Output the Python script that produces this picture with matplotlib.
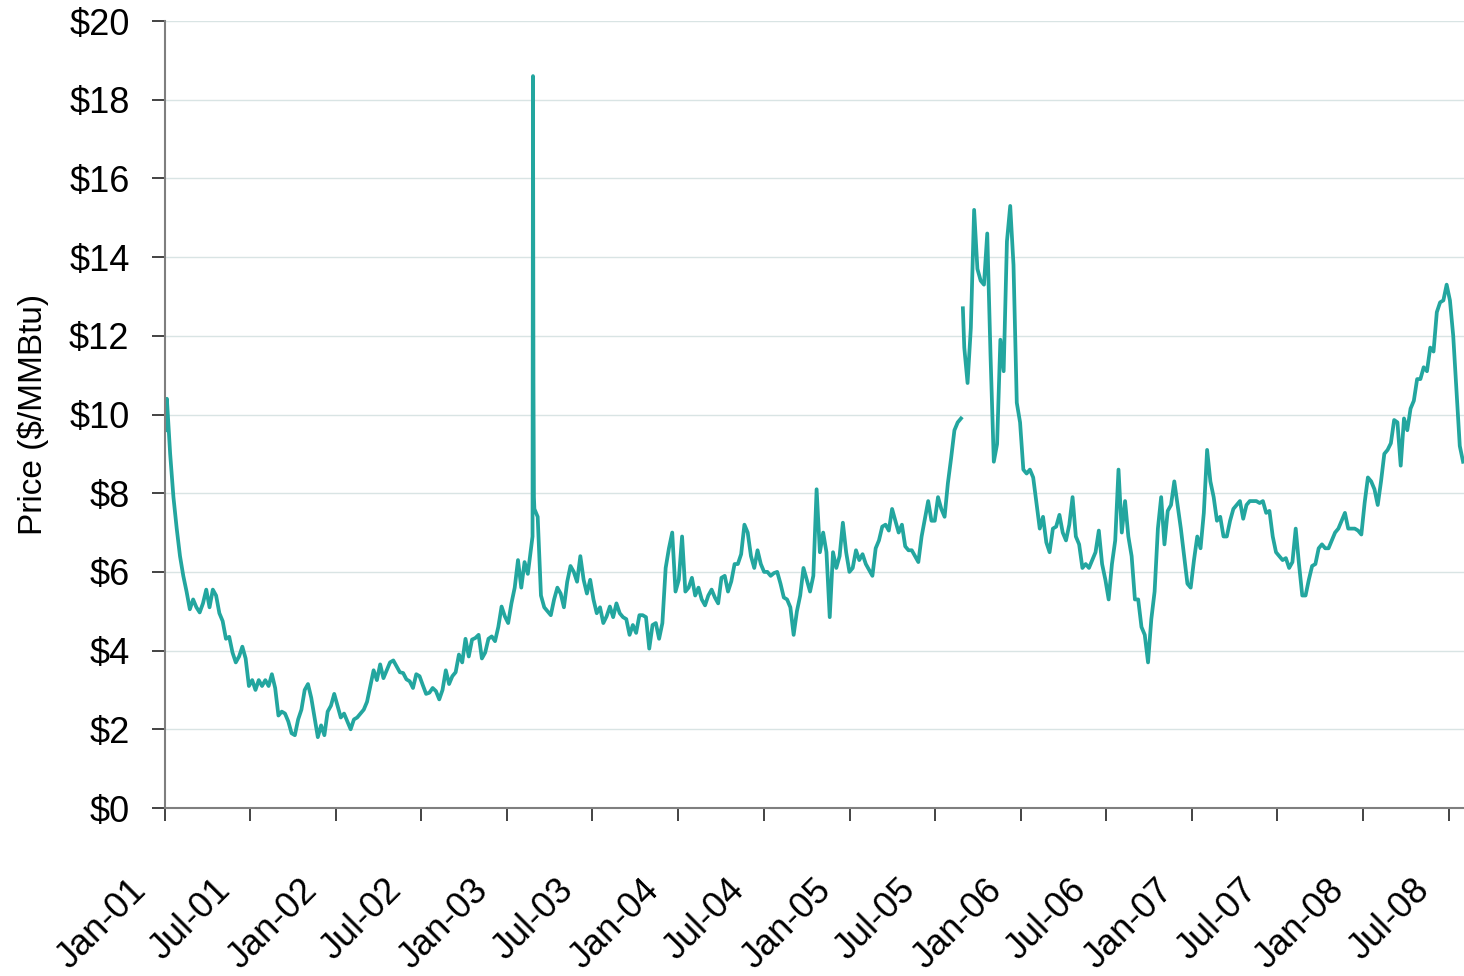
import numpy as np
import pandas as pd
import matplotlib
matplotlib.use('Agg')
import matplotlib.pyplot as plt
import matplotlib.dates as mdates
from matplotlib.ticker import MultipleLocator, FuncFormatter
from matplotlib.transforms import ScaledTranslation

# weekly spot prices ($/MMBtu), Fridays from 2001-01-05
prices_2001 = [10.4, 9.0, 7.9, 7.1, 6.4, 5.9, 5.5, 5.05, 5.3, 5.1,
               4.97, 5.2, 5.55, 5.1, 5.55, 5.4, 4.95, 4.75, 4.3, 4.35,
               3.95, 3.7, 3.85, 4.1, 3.8, 3.1, 3.25, 3.0, 3.25, 3.1,
               3.25, 3.1, 3.4, 3.05, 2.35, 2.45, 2.4, 2.2, 1.9, 1.85,
               2.25, 2.5, 3.0, 3.15, 2.8, 2.3, 1.8, 2.1, 1.85, 2.45,
               2.6, 2.9]
prices_2002 = [2.6, 2.3, 2.4, 2.2, 2.0, 2.25, 2.3, 2.4, 2.5, 2.7,
               3.1, 3.5, 3.25, 3.65, 3.3, 3.5, 3.7, 3.75, 3.6, 3.45,
               3.43, 3.27, 3.22, 3.05, 3.4, 3.35, 3.12, 2.9, 2.93, 3.05,
               2.97, 2.76, 3.0, 3.5, 3.15, 3.35, 3.45, 3.9, 3.7, 4.3,
               3.85, 4.28, 4.32, 4.4, 3.8, 3.95, 4.3, 4.36, 4.24, 4.6,
               5.12, 4.87]
prices_2003 = [4.7, 5.2, 5.6, 6.3, 5.6, 6.25, 5.95, 6.6, 7.6, 7.4,
               5.4, 5.1, 5.0, 4.9, 5.3, 5.6, 5.45, 5.1, 5.75, 6.15,
               6.0, 5.75, 6.4, 5.8, 5.45, 5.8, 5.3, 4.95, 5.1, 4.7,
               4.87, 5.12, 4.85, 5.2, 4.95, 4.85, 4.8, 4.4, 4.65, 4.45,
               4.9, 4.9, 4.85, 4.05, 4.65, 4.7, 4.3, 4.7, 6.1, 6.6,
               7.0, 5.5]
prices_2004 = [5.8, 6.9, 5.5, 5.6, 5.85, 5.4, 5.6, 5.3, 5.15, 5.4,
               5.55, 5.35, 5.2, 5.85, 5.9, 5.5, 5.76, 6.2, 6.2, 6.45,
               7.2, 7.0, 6.4, 6.1, 6.55, 6.2, 6.0, 6.0, 5.9, 5.97,
               6.0, 5.7, 5.35, 5.3, 5.1, 4.4, 5.0, 5.4, 6.1, 5.8,
               5.5, 5.9, 8.1, 6.5, 7.0, 6.5, 4.85, 6.5, 6.1, 6.4,
               7.25, 6.5, 6.0]
prices_2005 = [6.1, 6.55, 6.3, 6.45, 6.2, 6.05, 5.9, 6.6, 6.8, 7.15,
               7.2, 7.05, 7.6, 7.3, 7.0, 7.2, 6.65, 6.55, 6.55, 6.4,
               6.25, 6.9, 7.35, 7.8, 7.3, 7.3, 7.9, 7.6, 7.4, 8.25,
               8.9, 9.6, 9.8, 9.9, 11.7, 10.8, 12.2, 15.2, 13.7, 13.4,
               13.3, 14.6, 11.5, 8.8, 9.25, 11.9, 11.1, 14.4, 15.3, 13.8,
               10.3, 9.8]
prices_2006 = [8.6, 8.5, 8.6, 8.4, 7.75, 7.1, 7.4, 6.75, 6.5, 7.1,
               7.15, 7.45, 7.0, 6.8, 7.2, 7.9, 6.9, 6.7, 6.1, 6.2,
               6.1, 6.3, 6.5, 7.05, 6.2, 5.8, 5.3, 6.2, 6.8, 8.6,
               7.0, 7.8, 6.9, 6.4, 5.3, 5.3, 4.6, 4.4, 3.7, 4.8,
               5.5, 7.1, 7.9, 6.7, 7.55, 7.7, 8.3, 7.7, 7.1, 6.4,
               5.7, 5.6]
prices_2007 = [6.3, 6.9, 6.6, 7.5, 9.1, 8.3, 7.9, 7.3, 7.4, 6.9,
               6.9, 7.3, 7.6, 7.7, 7.8, 7.35, 7.7, 7.8, 7.8, 7.8,
               7.75, 7.8, 7.5, 7.55, 6.9, 6.5, 6.4, 6.3, 6.35, 6.1,
               6.25, 7.1, 6.2, 5.4, 5.4, 5.8, 6.15, 6.2, 6.6, 6.7,
               6.6, 6.6, 6.8, 7.0, 7.1, 7.3, 7.5, 7.1, 7.1, 7.1,
               7.05, 6.95]
prices_2008 = [7.75, 8.4, 8.3, 8.1, 7.7, 8.3, 9.0, 9.1, 9.27, 9.86,
               9.8, 8.7, 9.9, 9.6, 10.15, 10.35, 10.9, 10.9, 11.2, 11.1,
               11.7, 11.6, 12.6, 12.85, 12.9, 13.3, 12.9, 12.0, 10.6, 9.2,
               8.8]

# single days that the weekly values miss (Feb 2003 spike, hurricane gap)
extra_dates = ['2001-01-02', '2003-02-24', '2003-02-25', '2003-02-26',
               '2003-02-27', '2005-08-29', '2005-08-30']
extra_prices = [9.6, 6.9, 18.6, 10.8, 7.9, np.nan, 12.7]

weekly = (prices_2001 + prices_2002 + prices_2003 + prices_2004 +
          prices_2005 + prices_2006 + prices_2007 + prices_2008)
dates = pd.date_range('2001-01-05', periods=len(weekly), freq='7D')
s = pd.Series(weekly, index=dates)
s = pd.concat([s, pd.Series(extra_prices, index=pd.to_datetime(extra_dates))]).sort_index()

plt.rcParams['font.family'] = ['Liberation Sans', 'DejaVu Sans']

fig = plt.figure(figsize=(14.64, 9.76), dpi=100)
ax = fig.add_axes([165 / 1464, 1 - 808 / 976, 1299 / 1464, 787 / 976])

ax.plot(s.index, s.values, color='#23a69f', lw=2.7)

ax.set_ylim(0, 20)
ax.set_xlim(pd.Timestamp('2001-01-01'), pd.Timestamp('2008-08-03'))
ax.yaxis.set_major_locator(MultipleLocator(2))
ax.yaxis.set_major_formatter(FuncFormatter(lambda v, p: f'${v:.0f}'))
ax.xaxis.set_major_locator(mdates.MonthLocator(bymonth=[1, 7]))
ax.xaxis.set_major_formatter(mdates.DateFormatter('%b-%y'))

ax.grid(axis='y', color='#d9e4e4', lw=1)
ax.set_axisbelow(True)
for side in ['top', 'right']:
    ax.spines[side].set_visible(False)
for side in ['left', 'bottom']:
    ax.spines[side].set_color('#7f7f7f')
    ax.spines[side].set_linewidth(1.5)

ax.tick_params(axis='both', direction='out', length=9.5, width=1.2,
               color='#222222', labelsize=26)
ax.tick_params(axis='y', pad=16)
ax.tick_params(axis='x', pad=37)

shift = ScaledTranslation(-0.12, 0, fig.dpi_scale_trans)
for lab in ax.get_xticklabels():
    lab.set_rotation(45)
    lab.set_ha('right')
    lab.set_transform(lab.get_transform() + shift)

ax.set_ylabel('Price ($/MMBtu)', fontsize=24)
ax.yaxis.set_label_coords(-0.089, 0.5)

fig.savefig('out.png', dpi=100)
